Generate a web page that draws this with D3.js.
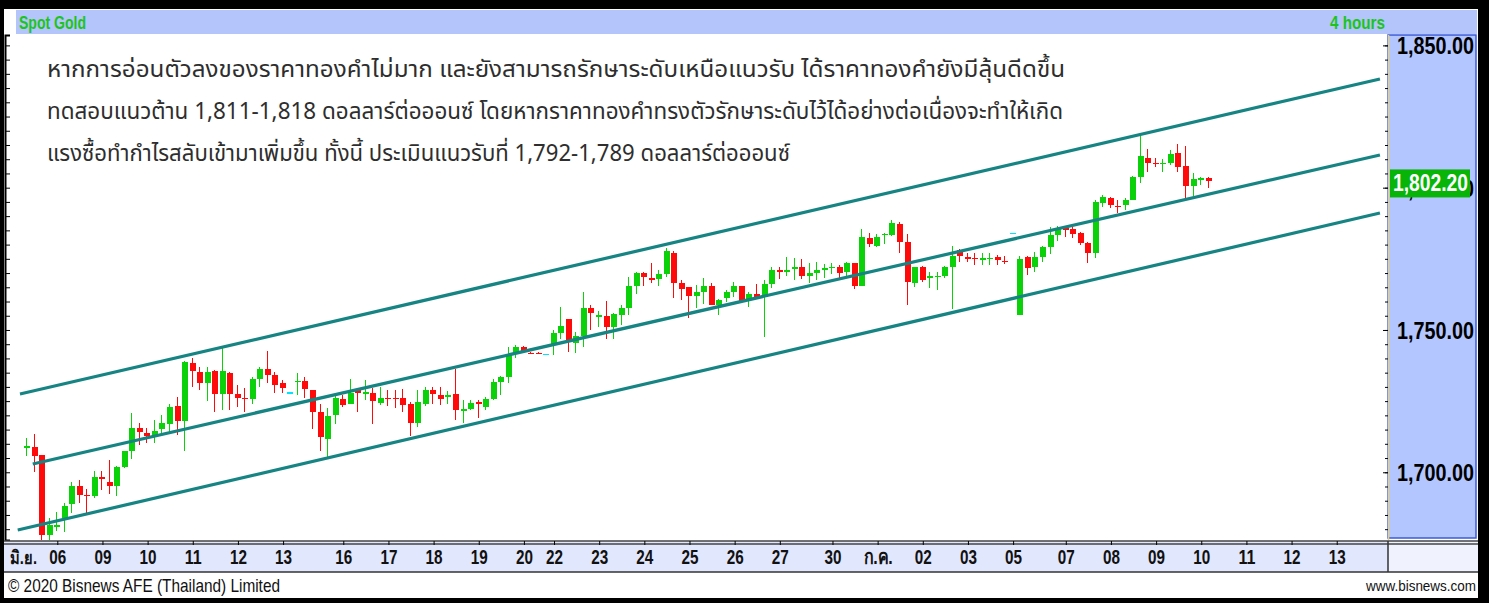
<!DOCTYPE html>
<html>
<head>
<meta charset="utf-8">
<script src="https://cdn.jsdelivr.net/npm/d3@7"></script>
<style>
  body { margin: 0; background: #000; }
  svg { display: block; }
  text { font-family: "Liberation Sans", "DejaVu Sans", sans-serif; }
</style>
</head>
<body>
<svg id="chart" width="1489" height="603"></svg>
<script>
// 4 hour bars, Spot Gold (one value per bar)
var openP = [
  1708.7, 1709.0, 1706.1, 1678.0, 1681.0, 1683.9, 1688.9, 1695.2, 1692.1, 1691.5,
  1698.5, 1696.7, 1695.0, 1701.8, 1707.3, 1715.7, 1713.9, 1712.5, 1715.1, 1716.9,
  1723.3, 1718.0, 1738.3, 1735.4, 1731.3, 1735.6, 1727.4, 1735.0, 1727.4, 1726.2,
  1725.8, 1732.8, 1736.2, 1734.2, 1731.3, 1728.2, 1731.6, 1732.2, 1728.9, 1721.3,
  1711.8, 1720.1, 1725.6, 1724.0, 1728.9, 1727.8, 1727.7, 1724.5, 1726.1, 1726.1,
  1726.0, 1724.0, 1717.2, 1724.0, 1728.9, 1727.2, 1726.6, 1727.4, 1721.8, 1722.1,
  1724.8, 1722.8, 1725.6, 1731.8, 1733.6, 1741.6, 1743.9, 1742.0, 1742.0, 1741.6,
  1744.7, 1748.8, 1753.7, 1745.3, 1747.9, 1757.8, 1754.7, 1754.9, 1751.0, 1755.3,
  1757.8, 1765.5, 1769.9, 1768.2, 1767.9, 1769.5, 1777.1, 1766.6, 1765.0, 1761.9,
  1763.4, 1765.4, 1758.7, 1761.3, 1763.4, 1765.4, 1760.5, 1762.7, 1761.5, 1766.2,
  1771.1, 1770.5, 1771.3, 1772.2, 1769.0, 1770.1, 1771.1, 1771.7, 1772.2, 1770.5,
  1773.4, 1765.5, 1782.2, 1779.5, 1783.4, 1783.4, 1787.2, 1781.0, 1766.6, 1772.0,
  1768.4, 1768.6, 1769.0, 1772.0, 1778.1, 1775.5, 1775.3, 1774.9, 1775.0, 1775.5,
  1774.4, 1784.2, 1755.3, 1775.5, 1772.0, 1775.8, 1779.1, 1783.4, 1785.7, 1785.4,
  1784.2, 1780.5, 1777.2, 1794.5, 1796.3, 1793.6, 1793.9, 1795.7, 1803.9, 1810.3,
  1808.8, 1808.3, 1808.8, 1812.1, 1807.6, 1800.6, 1802.9, 1803.4
];
var highP = [
  1712.2, 1713.4, 1706.1, 1683.9, 1686.2, 1689.1, 1696.7, 1697.3, 1694.0, 1700.5,
  1700.5, 1704.3, 1702.2, 1707.5, 1720.7, 1717.2, 1715.5, 1718.4, 1720.2, 1724.0,
  1726.6, 1739.0, 1740.1, 1737.1, 1737.1, 1735.8, 1744.4, 1735.2, 1730.7, 1729.5,
  1733.6, 1737.1, 1742.7, 1735.4, 1732.4, 1728.2, 1735.0, 1733.6, 1729.0, 1724.0,
  1722.7, 1727.2, 1727.2, 1732.7, 1729.5, 1732.4, 1729.5, 1730.1, 1728.9, 1728.9,
  1729.2, 1724.8, 1728.9, 1729.9, 1729.9, 1729.9, 1728.7, 1736.2, 1725.4, 1725.4,
  1725.4, 1726.6, 1732.7, 1733.8, 1744.0, 1744.7, 1744.4, 1742.1, 1742.1, 1741.6,
  1750.0, 1758.2, 1753.8, 1749.4, 1763.4, 1758.7, 1756.6, 1760.2, 1756.1, 1758.8,
  1768.7, 1770.5, 1770.5, 1773.4, 1771.1, 1778.7, 1777.8, 1767.5, 1765.0, 1765.8,
  1768.1, 1766.6, 1760.8, 1764.0, 1766.7, 1765.5, 1763.4, 1766.2, 1767.6, 1772.0,
  1772.0, 1775.6, 1775.2, 1774.9, 1773.4, 1774.0, 1773.2, 1773.7, 1772.8, 1774.0,
  1773.5, 1785.4, 1784.2, 1783.7, 1784.2, 1788.7, 1788.1, 1783.7, 1772.0, 1772.5,
  1770.2, 1770.2, 1772.5, 1779.5, 1778.3, 1776.9, 1776.9, 1776.9, 1777.2, 1776.4,
  1776.0, 1784.2, 1776.0, 1776.0, 1777.5, 1779.5, 1786.3, 1786.5, 1785.7, 1786.1,
  1784.5, 1781.0, 1795.7, 1797.4, 1796.9, 1795.7, 1796.3, 1804.1, 1818.2, 1813.5,
  1810.3, 1810.0, 1813.3, 1815.4, 1814.7, 1805.1, 1803.6, 1803.6
];
var lowP = [
  1705.8, 1700.2, 1676.2, 1676.2, 1679.2, 1678.9, 1685.6, 1689.1, 1685.6, 1690.9,
  1693.8, 1692.4, 1691.5, 1701.6, 1704.7, 1709.6, 1710.2, 1710.2, 1713.7, 1714.3,
  1713.1, 1707.5, 1730.1, 1728.9, 1725.1, 1721.3, 1721.9, 1721.9, 1723.1, 1721.3,
  1724.0, 1730.1, 1731.3, 1727.7, 1727.7, 1728.2, 1727.2, 1726.0, 1715.1, 1707.3,
  1705.5, 1717.0, 1723.1, 1724.0, 1721.3, 1725.4, 1717.0, 1723.6, 1723.3, 1722.5,
  1721.3, 1712.8, 1716.0, 1723.3, 1724.0, 1723.6, 1724.0, 1718.4, 1717.2, 1721.9,
  1719.0, 1721.9, 1725.4, 1727.2, 1731.3, 1740.0, 1742.0, 1741.6, 1741.7, 1741.6,
  1741.2, 1747.0, 1742.4, 1742.0, 1744.1, 1750.0, 1751.1, 1746.7, 1746.7, 1751.8,
  1755.3, 1762.6, 1765.5, 1766.6, 1765.5, 1768.7, 1761.1, 1760.7, 1754.1, 1757.8,
  1759.1, 1758.7, 1755.2, 1759.9, 1761.7, 1759.6, 1757.9, 1761.5, 1747.6, 1764.7,
  1767.8, 1768.8, 1767.4, 1767.8, 1766.6, 1767.6, 1768.1, 1769.7, 1768.1, 1768.1,
  1764.4, 1765.4, 1779.3, 1779.0, 1780.1, 1783.0, 1777.0, 1758.8, 1765.0, 1767.0,
  1764.7, 1764.0, 1768.2, 1757.3, 1774.0, 1774.0, 1772.8, 1772.8, 1772.8, 1772.8,
  1773.2, 1784.2, 1755.3, 1769.3, 1770.5, 1774.0, 1776.7, 1781.1, 1782.8, 1782.2,
  1779.9, 1773.4, 1775.2, 1793.1, 1792.8, 1791.0, 1792.2, 1795.6, 1801.5, 1805.6,
  1807.4, 1805.6, 1807.9, 1805.6, 1795.9, 1797.1, 1801.0, 1799.8
];
var closeP = [
  1709.4, 1705.8, 1678.0, 1681.5, 1681.3, 1688.0, 1695.2, 1692.1, 1691.5, 1698.5,
  1697.6, 1695.2, 1701.8, 1707.3, 1715.7, 1714.1, 1712.9, 1714.6, 1717.2, 1722.8,
  1718.0, 1738.9, 1735.7, 1731.3, 1735.4, 1727.4, 1735.6, 1727.4, 1726.2, 1725.8,
  1732.8, 1736.2, 1734.2, 1730.7, 1729.7, 1728.2, 1732.2, 1729.2, 1721.3, 1712.3,
  1719.9, 1726.0, 1723.6, 1728.0, 1728.0, 1728.1, 1725.2, 1726.0, 1725.8, 1725.8,
  1723.6, 1717.2, 1724.8, 1728.9, 1727.5, 1725.6, 1727.0, 1721.9, 1722.1, 1724.5,
  1724.0, 1725.6, 1731.6, 1733.4, 1741.5, 1743.9, 1742.7, 1741.8, 1741.8, 1741.6,
  1748.8, 1751.4, 1746.5, 1747.9, 1757.8, 1755.8, 1755.1, 1751.1, 1755.6, 1757.8,
  1765.5, 1769.9, 1768.5, 1767.9, 1769.5, 1777.8, 1766.6, 1764.3, 1761.9, 1763.4,
  1765.4, 1758.7, 1760.5, 1763.2, 1765.4, 1760.3, 1762.5, 1761.5, 1766.2, 1771.1,
  1770.4, 1771.1, 1772.2, 1769.0, 1770.1, 1771.1, 1771.7, 1772.2, 1769.9, 1773.4,
  1765.5, 1782.6, 1780.1, 1782.8, 1783.8, 1787.7, 1781.0, 1767.0, 1772.0, 1767.6,
  1768.8, 1769.0, 1772.0, 1776.0, 1776.0, 1775.1, 1774.9, 1775.2, 1775.3, 1774.6,
  1773.9, 1784.2, 1774.8, 1771.7, 1775.5, 1779.1, 1783.4, 1785.4, 1785.1, 1783.8,
  1780.5, 1777.2, 1794.8, 1796.9, 1793.9, 1793.1, 1795.7, 1803.9, 1811.1, 1808.8,
  1808.3, 1808.8, 1811.9, 1807.4, 1800.6, 1803.0, 1803.4, 1802.2
];

// day labels under the bars, with the bar index where each day starts
var dayLabels = ['06', '09', '10', '11', '12', '13', '16', '17', '18', '19', '20', '22', '23', '24',
                 '25', '26', '27', '30', 'ก.ค.', '02', '03', '05', '07', '08', '09', '10', '11', '12', '13'];
var dayIndex = [4, 10, 16, 22, 28, 34, 42, 48, 54, 60, 66, 70, 76, 82,
                88, 94, 100, 107, 113, 119, 125, 131, 138, 144, 150, 156, 162, 168, 174];
var monthLabel = 'มิ.ย.';

var priceTicks = [1700, 1750, 1800, 1850];
var lastPrice = 1802.20;

// channel lines: [startIndex, startPrice, endIndex, endPrice]
var channelUpper = [-0.8, 1727.5, 179.9, 1838.2];
var channelMiddle = [0.9, 1702.9, 179.9, 1811.5];
var channelLower = [-1.1, 1679.7, 179.9, 1791.1];

var noteLines = [
  'หากการอ่อนตัวลงของราคาทองคำไม่มาก และยังสามารถรักษาระดับเหนือแนวรับ ได้ราคาทองคำยังมีลุ้นดีดขึ้น',
  'ทดสอบแนวต้าน 1,811-1,818 ดอลลาร์ต่อออนซ์ โดยหากราคาทองคำทรงตัวรักษาระดับไว้ได้อย่างต่อเนื่องจะทำให้เกิด',
  'แรงซื้อทำกำไรสลับเข้ามาเพิ่มขึ้น ทั้งนี้ ประเมินแนวรับที่ 1,792-1,789 ดอลลาร์ต่อออนซ์'
];
var noteWidths = [1018, 1016, 743];

var W = 1489, H = 603;
var plot = { left: 14, right: 1388, top: 35, bottom: 540 };
var svg = d3.select('#chart');

var x = d3.scaleLinear().domain([0, 180]).range([26, 26 + 7.526 * 180]);
var y = d3.scaleLinear().domain([1676.2, 1853.65]).range([plot.bottom, plot.top]);

// no narrow font installed, so squeeze text to the width the chart uses
function squeeze(sel, width) {
  return sel.attr('textLength', width).attr('lengthAdjust', 'spacingAndGlyphs');
}

// frame
svg.append('rect').attr('width', W).attr('height', H).attr('fill', '#000');
svg.append('rect').attr('x', 4).attr('y', 9).attr('width', 1474).attr('height', 589).attr('fill', '#fff');

// header
svg.append('rect').attr('x', 16).attr('y', 10).attr('width', 1461).attr('height', 24).attr('fill', '#b3c5fb');
squeeze(svg.append('text').attr('x', 19).attr('y', 29)
  .attr('fill', '#1cc41c').style('font-size', '19px').style('font-weight', 'bold').text('Spot Gold'), 67);
squeeze(svg.append('text').attr('x', 1330).attr('y', 29)
  .attr('fill', '#1cc41c').style('font-size', '19px').style('font-weight', 'bold').text('4 hours'), 55);

// right price panel
svg.append('rect').attr('x', plot.right).attr('y', plot.top).attr('width', 88).attr('height', plot.bottom - plot.top - 2)
  .attr('fill', '#b3c6ff').attr('stroke', '#3a5ad8').attr('stroke-width', 1.5);
svg.append('line').attr('x1', plot.right + 0.5).attr('x2', plot.right + 0.5).attr('y1', plot.top).attr('y2', plot.bottom)
  .attr('stroke', '#e3cf86').attr('stroke-width', 1.5);

var minorTicks = d3.range(1680, 1855, 5);
svg.append('g').attr('transform', 'translate(' + plot.right + ',0)')
  .call(d3.axisLeft(y).tickValues(minorTicks).tickSize(3).tickFormat(''))
  .call(function(g) { g.select('.domain').remove(); });
svg.append('g').attr('transform', 'translate(' + plot.right + ',0)')
  .call(d3.axisLeft(y).tickValues(priceTicks).tickSize(5).tickFormat(''))
  .call(function(g) { g.select('.domain').remove(); });

// left edge ticks
svg.append('g').attr('transform', 'translate(5,0)')
  .call(d3.axisRight(y).tickValues(minorTicks).tickSize(5).tickFormat(''))
  .call(function(g) { g.select('.domain').attr('stroke-width', 2); });

svg.selectAll('.price-label').data(priceTicks).enter().append('text')
  .attr('class', 'price-label')
  .attr('x', 1397).attr('y', function(d) { return y(d) + 9; })
  .style('font-size', '24px').style('font-weight', 'bold').attr('fill', '#000')
  .attr('textLength', 77).attr('lengthAdjust', 'spacingAndGlyphs')
  .text(function(d) { return d3.format(',.2f')(d); });

// last price box
var lp = svg.append('g').attr('transform', 'translate(1390,' + (y(lastPrice) - 12) + ')');
lp.append('rect').attr('width', 80).attr('height', 28).attr('fill', '#07b407');
squeeze(lp.append('text').attr('x', 3).attr('y', 22)
  .style('font-size', '23px').style('font-weight', 'bold').attr('fill', '#fff')
  .text(d3.format(',.2f')(lastPrice)), 75);

// date band
svg.append('rect').attr('x', 4).attr('y', 541).attr('width', plot.right - 4).attr('height', 31).attr('fill', '#e1e7fc');
svg.append('rect').attr('x', plot.right).attr('y', 541).attr('width', 1478 - plot.right).attr('height', 31).attr('fill', '#f0f2fd');
svg.append('line').attr('x1', 4).attr('x2', 1478).attr('y1', 541).attr('y2', 541).attr('stroke', '#444').attr('stroke-width', 1.5);
svg.append('line').attr('x1', 4).attr('x2', 1478).attr('y1', 544).attr('y2', 544).attr('stroke', '#444').attr('stroke-width', 1.5);
svg.append('line').attr('x1', 4).attr('x2', 1478).attr('y1', 572).attr('y2', 572).attr('stroke', '#333').attr('stroke-width', 1.5);
svg.append('line').attr('x1', plot.right).attr('x2', plot.right).attr('y1', 541).attr('y2', 572).attr('stroke', '#333').attr('stroke-width', 1.5);

var xAxis = d3.axisBottom(x).tickValues(dayIndex).tickSize(4)
  .tickFormat(function(d, i) { return dayLabels[i]; });
var xg = svg.append('g').attr('transform', 'translate(1.2,541)').call(xAxis);
xg.select('.domain').remove();
xg.selectAll('text').attr('dy', 0).attr('y', 23)
  .style('font-size', '20px').style('font-weight', 'bold').attr('fill', '#111')
  .attr('font-family', null)
  .each(function(d, i) {
    var w = dayLabels[i].length > 2 ? 29 : 17;
    squeeze(d3.select(this), w);
  });
squeeze(svg.append('text').attr('x', 10).attr('y', 564)
  .style('font-size', '18px').style('font-weight', 'bold').attr('fill', '#111').text(monthLabel), 27);

// footer
squeeze(svg.append('text').attr('x', 8).attr('y', 592)
  .style('font-size', '19px').attr('fill', '#111').text('© 2020 Bisnews AFE (Thailand) Limited'), 272);
squeeze(svg.append('text').attr('x', 1366).attr('y', 591)
  .style('font-size', '15px').attr('fill', '#111').text('www.bisnews.com'), 110);

// candles
var bars = d3.range(openP.length).map(function(i) {
  return { i: i, o: openP[i], h: highP[i], l: lowP[i], c: closeP[i] };
});
function barColor(d) {
  if (d.c > d.o) return '#0bd10b';
  if (d.c < d.o) return '#ff0a0a';
  return '#00e5ff';
}
var cg = svg.append('g').attr('shape-rendering', 'crispEdges');
cg.selectAll('.wick').data(bars).enter().append('line')
  .attr('x1', function(d) { return Math.round(x(d.i)) + 0.5; })
  .attr('x2', function(d) { return Math.round(x(d.i)) + 0.5; })
  .attr('y1', function(d) { return y(d.h); })
  .attr('y2', function(d) { return y(d.l); })
  .attr('stroke', barColor).attr('stroke-width', 1);
cg.selectAll('.body').data(bars).enter().append('rect')
  .attr('x', function(d) { return Math.round(x(d.i)) - 2.5; })
  .attr('width', 6)
  .attr('y', function(d) { return y(Math.max(d.o, d.c)); })
  .attr('height', function(d) { return Math.max(1.5, Math.abs(y(d.o) - y(d.c))); })
  .attr('fill', barColor);

// channel
[channelUpper, channelMiddle, channelLower].forEach(function(c) {
  svg.append('line')
    .attr('x1', x(c[0])).attr('y1', y(c[1]))
    .attr('x2', x(c[2])).attr('y2', y(c[3]))
    .attr('stroke', '#178484').attr('stroke-width', 3.2);
});

// commentary
svg.selectAll('.note').data(noteLines).enter().append('text')
  .attr('x', 47).attr('y', function(d, i) { return 77 + i * 42; })
  .style('font-family', '"Noto Sans Thai", "Tahoma", "DejaVu Sans", sans-serif')
  .style('font-size', '23px').attr('fill', '#2e2e2e')
  .attr('textLength', function(d, i) { return noteWidths[i]; })
  .attr('lengthAdjust', 'spacingAndGlyphs')
  .text(function(d) { return d; });
</script>
</body>
</html>
